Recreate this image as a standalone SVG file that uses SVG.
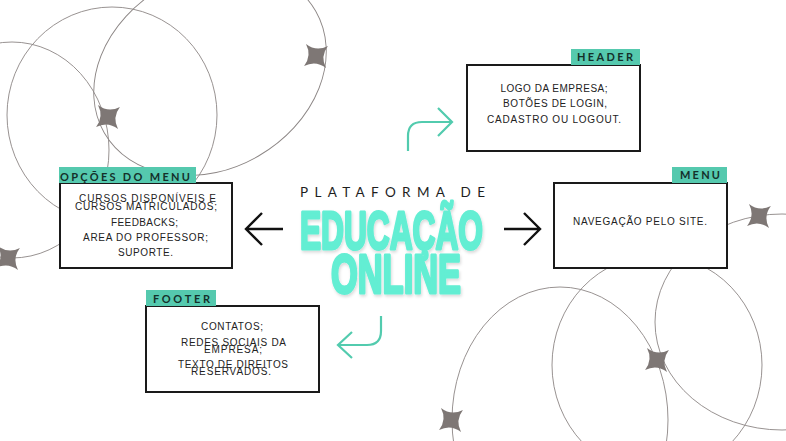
<svg xmlns="http://www.w3.org/2000/svg" width="786" height="441" viewBox="0 0 786 441">
<defs>
<style>
.orbit{fill:none;stroke:#8c8685;stroke-width:0.9}
.star{fill:#7e7775}
.box{fill:#fff;stroke:#1a1a1a;stroke-width:2}
.tag{fill:#55c9ae}
.tagtxt{font-family:Lato,"Open Sans",sans-serif;font-weight:700;font-size:11px;fill:#14302a;text-anchor:middle}
.body{font-family:"Liberation Sans",Arial,sans-serif;font-size:10px;fill:#222;text-anchor:middle}
.blk{fill:none;stroke:#111;stroke-width:2.4}
.teal{fill:none;stroke:#52cbae;stroke-width:2.2}
.big{font-family:"Liberation Sans",Arial,sans-serif;font-weight:700;fill:#63eed3;stroke:#63eed3;stroke-width:3.2;stroke-linejoin:round}
</style>
<path id="st" d="M-11,-11 Q0,-4 11,-11 Q4,0 11,11 Q0,4 -11,11 Q-4,0 -11,-11 Z"/>
<filter id="sh" x="-10%" y="-10%" width="120%" height="130%">
<feDropShadow dx="1" dy="2" stdDeviation="1.5" flood-color="#000" flood-opacity="0.15"/>
</filter>
</defs>
<rect width="786" height="441" fill="#fff"/>
<g id="decor">
<ellipse class="orbit" cx="112" cy="115" rx="105" ry="108"/>
<ellipse class="orbit" cx="12" cy="150" rx="97" ry="108"/>
<ellipse class="orbit" cx="210" cy="72" rx="122" ry="97" transform="rotate(-30 210 72)"/>
<ellipse class="orbit" cx="560" cy="420" rx="108" ry="133"/>
<ellipse class="orbit" cx="657" cy="365" rx="105" ry="110"/>
<ellipse class="orbit" cx="782" cy="322" rx="127" ry="108"/>
<use href="#st" class="star" transform="translate(316,56) rotate(5)"/>
<use href="#st" class="star" transform="translate(108,117) rotate(5)"/>
<use href="#st" class="star" transform="translate(8,258) rotate(5)"/>
<use href="#st" class="star" transform="translate(759,216) rotate(5)"/>
<use href="#st" class="star" transform="translate(657,360) rotate(5)"/>
<use href="#st" class="star" transform="translate(451,420) rotate(5)"/>
</g>
<g id="title">
<text x="300" y="197" textLength="185" style="font-family:Lato,'Open Sans',sans-serif;font-size:13.5px;fill:#1e1e1e">PLATAFORMA DE</text>
<g filter="url(#sh)">
<text class="big" x="300" y="249" font-size="54" textLength="183" lengthAdjust="spacingAndGlyphs">EDUCAÇÃO</text>
<text class="big" x="331" y="293" font-size="56" textLength="130" lengthAdjust="spacingAndGlyphs">ONLINE</text>
</g>
</g>
<g id="connectors">
<path class="blk" d="M283,229 H247 M262,213 L246,229 L262,245"/>
<path class="blk" d="M504,229 H539 M524,213 L540,229 L524,245"/>
<path class="teal" d="M408,151 V136 Q408,122 422,122 H451 M438,108 L452,122 L438,136"/>
<path class="teal" d="M381,316 V331 Q381,345 367,345 H339 M352,332 L338,345 L352,358"/>
</g>
<g id="node-header">
<rect class="box" x="467" y="65" width="173" height="86"/>
<rect class="tag" x="571" y="49" width="69" height="16"/>
<text class="tagtxt" x="605" y="60.5" textLength="56">HEADER</text>
<text class="body" x="554" y="92" textLength="107">LOGO DA EMPRESA;</text>
<text class="body" x="555" y="107" textLength="104">BOTÕES DE LOGIN,</text>
<text class="body" x="554" y="123" textLength="134">CADASTRO OU LOGOUT.</text>
</g>
<g id="node-opcoes">
<rect class="box" x="60" y="183" width="172" height="85"/>
<rect class="tag" x="59" y="167" width="137" height="16"/>
<text class="tagtxt" x="125" y="181" textLength="130">OPÇÕES DO MENU</text>
<text class="body" x="147.5" y="202" textLength="137">CURSOS DISPONÍVEIS E</text>
<text class="body" x="146" y="210" textLength="142">CURSOS MATRICULADOS;</text>
<text class="body" x="144.5" y="226" textLength="67">FEEDBACKS;</text>
<text class="body" x="145.5" y="241" textLength="125">AREA DO PROFESSOR;</text>
<text class="body" x="145.5" y="256" textLength="55">SUPORTE.</text>
</g>
<g id="node-menu">
<rect class="box" x="554" y="183" width="173" height="85"/>
<rect class="tag" x="672" y="167" width="55" height="16"/>
<text class="tagtxt" x="700" y="179" textLength="40">MENU</text>
<text class="body" x="640" y="225" textLength="134">NAVEGAÇÃO PELO SITE.</text>
</g>
<g id="node-footer">
<rect class="box" x="146" y="306" width="173" height="86"/>
<rect class="tag" x="146" y="290" width="70" height="16"/>
<text class="tagtxt" x="181.5" y="303" textLength="57">FOOTER</text>
<text class="body" x="232" y="330" textLength="62">CONTATOS;</text>
<text class="body" x="233.5" y="346" textLength="105">REDES SOCIAIS DA</text>
<text class="body" x="233" y="353" textLength="58">EMPRESA;</text>
<text class="body" x="233" y="367.5" textLength="110">TEXTO DE DIREITOS</text>
<text class="body" x="231" y="375" textLength="80">RESERVADOS.</text>
</g>
</svg>
